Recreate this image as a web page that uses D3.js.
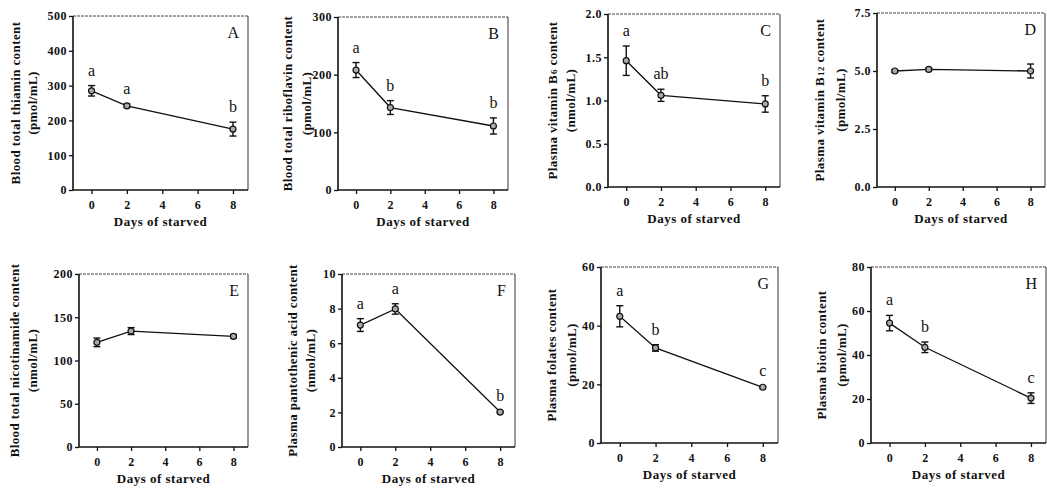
<!DOCTYPE html>
<html>
<head>
<meta charset="utf-8">
<script src="https://cdn.jsdelivr.net/npm/d3@7"></script>
<style>
  body { margin: 0; background: #fff; }
  svg { display: block; }
  text { font-family: "Liberation Serif", "DejaVu Serif", serif; fill: #111; }
</style>
</head>
<body>
<div id="chart"></div>
<script>
// values (mean and error bar half-length)
const days = [0, 2, 8];
const xTicks = [0, 2, 4, 6, 8];
const panelIds = ["A", "B", "C", "D", "E", "F", "G", "H"];
const yTitles = [
  "Blood total thiamin content",
  "Blood total riboflavin content",
  ["Plasma vitamin B", "6", " content"],
  ["Plasma vitamin B", "12", " content"],
  "Blood total nicotinamide content",
  "Plasma pantothenic acid content",
  "Plasma folates content",
  "Plasma biotin content"
];
const yUnits = ["(pmol/mL)", "(pmol/mL)", "(nmol/mL)", "(pmol/mL)", "(nmol/mL)", "(nmol/mL)", "(pmol/mL)", "(pmol/mL)"];
const yMax = [500, 300, 2, 7.5, 200, 10, 60, 80];
const yStep = [100, 100, 0.5, 2.5, 50, 2, 20, 20];
const yFormat = ["d", "d", ".1f", ".1f", "d", "d", "d", "d"];
const means = [
  [285, 242, 175],
  [208, 143, 111],
  [1.46, 1.06, 0.96],
  [5.0, 5.07, 5.0],
  [121, 134, 128],
  [7.05, 7.98, 2.02],
  [43.2, 32.4, 19.0],
  [54.5, 43.5, 20.4]
];
const errs = [
  [15, 5, 20],
  [13, 12, 14],
  [0.17, 0.07, 0.095],
  [0.05, 0.05, 0.3],
  [5, 4, 2],
  [0.37, 0.3, 0.05],
  [3.6, 1.1, 0.3],
  [3.5, 2.4, 2.4]
];
const letters = [
  ["a", "a", "b"],
  ["a", "b", "b"],
  ["a", "ab", "b"],
  [],
  [],
  ["a", "a", "b"],
  ["a", "b", "c"],
  ["a", "b", "c"]
];

// plot boxes [left, top, right, bottom] and y-title offsets from the axis
const boxes = [
  [73, 16, 248, 190], [338, 17, 508, 190], [608, 14, 780, 187], [877, 13, 1045, 187],
  [79, 274, 248, 447], [342, 274, 515, 447], [601, 267, 778, 443], [871, 267, 1046, 443]
];
const titleOff = [[53, 36], [46, 27], [51, 33], [53, 32], [60, 42], [45, 27], [45, 25], [45, 25]];

const width = 1047, height = 488;

const svg = d3.select("#chart")
  .append("svg")
  .attr("width", width)
  .attr("height", height);

panelIds.forEach((id, i) => {
  const [l, t, r, b] = boxes[i];
  const x = d3.scaleLinear().domain([-1.05, 8.85]).range([l, r]);
  const y = d3.scaleLinear().domain([0, yMax[i]]).range([b, t]);
  const g = svg.append("g");

  // frame: top and right are faint in the scan
  g.append("line").attr("x1", l).attr("x2", r).attr("y1", t).attr("y2", t)
    .attr("stroke", "#444").attr("stroke-width", 1).attr("stroke-dasharray", "3,1");
  g.append("line").attr("x1", r).attr("x2", r).attr("y1", t).attr("y2", b)
    .attr("stroke", "#333").attr("stroke-width", 1);

  const yTickVals = d3.range(0, yMax[i] + yStep[i] / 2, yStep[i]);
  const yAxis = g.append("g")
    .attr("transform", `translate(${l},0)`)
    .call(d3.axisLeft(y).tickValues(yTickVals).tickFormat(d3.format(yFormat[i])).tickSize(4).tickPadding(2));
  const xAxis = g.append("g")
    .attr("transform", `translate(0,${b})`)
    .call(d3.axisBottom(x).tickValues(xTicks).tickSize(4).tickPadding(6));

  [xAxis, yAxis].forEach(ax => {
    ax.select(".domain").attr("stroke", "#111").attr("stroke-width", 1.6);
    ax.selectAll(".tick line").attr("stroke", "#111").attr("stroke-width", 1.3);
    ax.selectAll(".tick text")
      .attr("fill", "#111")
      .style("font-family", "'Liberation Serif', serif")
      .style("font-weight", "bold")
      .style("font-size", "12px")
      .style("letter-spacing", "0.5px");
  });
  // the domain path from d3 includes outer ticks; redraw as plain lines
  xAxis.select(".domain").attr("d", `M${l},0H${r}`);
  yAxis.select(".domain").attr("d", `M0,${b}V${t}`);

  // x title
  g.append("text")
    .attr("x", (l + r) / 2).attr("y", b + 36)
    .attr("text-anchor", "middle")
    .style("font-weight", "bold").style("font-size", "13px")
    .style("letter-spacing", "0.5px")
    .text("Days of starved");

  // y title, two lines
  const cy = (t + b) / 2;
  const t1 = g.append("text")
    .attr("transform", `translate(${l - titleOff[i][0]},${cy}) rotate(-90)`)
    .attr("text-anchor", "middle")
    .style("font-weight", "bold").style("font-size", "13px")
    .style("letter-spacing", "0.4px");
  if (Array.isArray(yTitles[i])) {
    t1.append("tspan").text(yTitles[i][0]);
    t1.append("tspan").attr("font-size", "9px").attr("dx", 1).text(yTitles[i][1]);
    t1.append("tspan").text(yTitles[i][2]);
  } else {
    t1.text(yTitles[i]);
  }
  g.append("text")
    .attr("transform", `translate(${l - titleOff[i][1]},${cy}) rotate(-90)`)
    .attr("text-anchor", "middle")
    .style("font-weight", "bold").style("font-size", "13px")
    .style("letter-spacing", "0.4px")
    .text(yUnits[i]);

  // panel letter
  g.append("text")
    .attr("x", r - 9).attr("y", t + 22)
    .attr("text-anchor", "end")
    .style("font-size", "16px")
    .text(id);

  const pts = days.map((d, k) => ({ d, m: means[i][k], e: errs[i][k], lab: letters[i][k] }));

  // line
  g.append("path")
    .datum(pts)
    .attr("fill", "none")
    .attr("stroke", "#111")
    .attr("stroke-width", 1.3)
    .attr("d", d3.line().x(p => x(p.d)).y(p => y(p.m)));

  // error bars
  const eb = g.append("g").selectAll("g").data(pts).join("g");
  eb.append("line")
    .attr("x1", p => x(p.d)).attr("x2", p => x(p.d))
    .attr("y1", p => y(p.m - p.e)).attr("y2", p => y(p.m + p.e))
    .attr("stroke", "#111").attr("stroke-width", 1.4);
  eb.append("line")
    .attr("x1", p => x(p.d) - 3.5).attr("x2", p => x(p.d) + 3.5)
    .attr("y1", p => y(p.m + p.e)).attr("y2", p => y(p.m + p.e))
    .attr("stroke", "#111").attr("stroke-width", 1.4);
  eb.append("line")
    .attr("x1", p => x(p.d) - 3.5).attr("x2", p => x(p.d) + 3.5)
    .attr("y1", p => y(p.m - p.e)).attr("y2", p => y(p.m - p.e))
    .attr("stroke", "#111").attr("stroke-width", 1.4);

  // markers
  g.append("g").selectAll("circle").data(pts).join("circle")
    .attr("cx", p => x(p.d)).attr("cy", p => y(p.m))
    .attr("r", 3)
    .attr("fill", "#aaa")
    .attr("stroke", "#111")
    .attr("stroke-width", 1.2);

  // significance letters
  g.append("g").selectAll("text").data(pts.filter(p => p.lab)).join("text")
    .attr("x", p => x(p.d)).attr("y", p => y(p.m + p.e) - 10)
    .attr("text-anchor", "middle")
    .style("font-size", "16px")
    .text(p => p.lab);
});
</script>
</body>
</html>
